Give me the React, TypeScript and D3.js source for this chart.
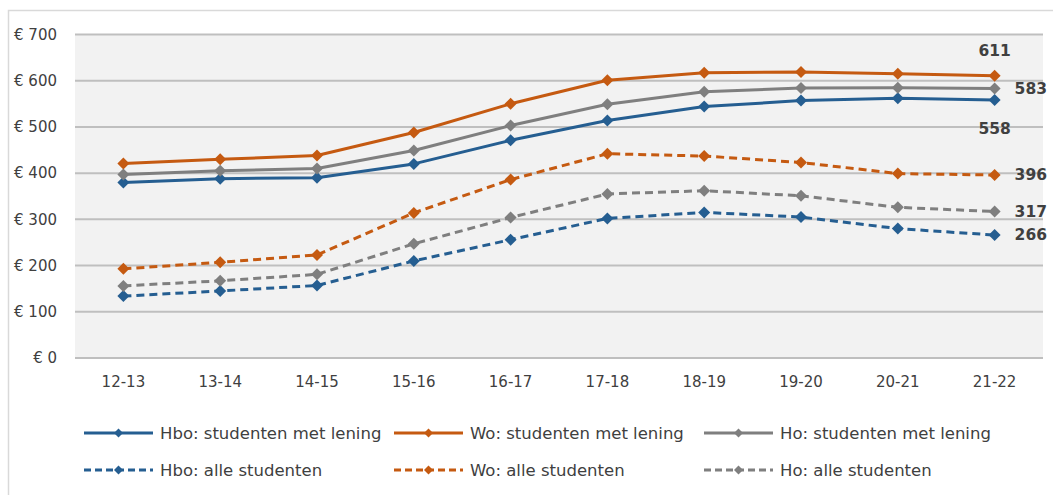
import React from "react";
import * as d3 from "d3";

const categories = ["12-13", "13-14", "14-15", "15-16", "16-17", "17-18", "18-19", "19-20", "20-21", "21-22"];
const hboLening = [380, 388, 390, 420, 471, 514, 544, 557, 562, 558];
const woLening = [421, 430, 438, 488, 550, 601, 617, 619, 615, 611];
const hoLening = [397, 405, 410, 449, 503, 549, 576, 584, 585, 583];
const hboAlle = [134, 145, 157, 210, 256, 302, 315, 305, 280, 266];
const woAlle = [193, 207, 223, 314, 386, 442, 437, 423, 399, 396];
const hoAlle = [156, 167, 181, 247, 304, 355, 362, 351, 326, 317];
const yTicks = [0, 100, 200, 300, 400, 500, 600, 700];

const BLUE = "#255E91";
const ORANGE = "#C55A11";
const GRAY = "#7F7F7F";

const series = [
  { name: "Hbo: studenten met lening", values: hboLening, color: BLUE, dashed: false, label: "below" },
  { name: "Wo: studenten met lening", values: woLening, color: ORANGE, dashed: false, label: "above" },
  { name: "Ho: studenten met lening", values: hoLening, color: GRAY, dashed: false, label: "right" },
  { name: "Hbo: alle studenten", values: hboAlle, color: BLUE, dashed: true, label: "right" },
  { name: "Wo: alle studenten", values: woAlle, color: ORANGE, dashed: true, label: "right" },
  { name: "Ho: alle studenten", values: hoAlle, color: GRAY, dashed: true, label: "right" },
];

const FONT = "'DejaVu Sans', Verdana, sans-serif";

export default function App() {
  const W = 1053, H = 495;
  const left = 75, right = 1043, top = 34.5, bottom = 358;
  const x = d3.scaleBand<string>().domain(categories).range([left, right]);
  const y = d3.scaleLinear().domain([0, 700]).range([bottom, top]);
  const cx = (c: string) => (x(c) as number) + x.bandwidth() / 2;
  const line = d3.line<number>().x((_, i) => cx(categories[i])).y((v) => y(v));
  const diamond = (px: number, py: number, r: number) =>
    `M${px},${py - r}L${px + r},${py}L${px},${py + r}L${px - r},${py}Z`;

  const drawOrder = [3, 5, 4, 0, 2, 1];
  const legendCols = [84, 394, 704];
  const legendRows = [433, 470];

  return (
    <div style={{ position: "fixed", left: 0, top: 0, width: W, height: H, overflow: "hidden" }}>
      <svg width={W} height={H} style={{ display: "block", fontFamily: FONT }}>
        <rect x={0} y={0} width={W} height={H} fill="#fff" />
        <rect x={8.5} y={10.5} width={1060} height={500} fill="none" stroke="#D9D9D9" strokeWidth={1.5} />
        <rect x={left} y={top} width={right - left} height={bottom - top} fill="#F2F2F2" />
        {yTicks.map((t) => (
          <g key={t}>
            <line x1={left} x2={right} y1={y(t)} y2={y(t)} stroke="#BFBFBF" strokeWidth={2} />
            <text x={57} y={y(t)} dy="0.35em" textAnchor="end" fontSize={15} fill="#404040">
              {`€ ${t}`}
            </text>
          </g>
        ))}
        {categories.map((c) => (
          <text key={c} x={cx(c)} y={382} dy="0.35em" textAnchor="middle" fontSize={15} fill="#404040">
            {c}
          </text>
        ))}
        {drawOrder.map((si) => {
          const s = series[si];
          return (
            <g key={s.name}>
              <path
                d={line(s.values) as string}
                fill="none"
                stroke={s.color}
                strokeWidth={3}
                strokeDasharray={s.dashed ? "8,5" : undefined}
                strokeLinejoin="round"
              />
              {s.values.map((v, i) => (
                <path key={i} d={diamond(cx(categories[i]), y(v), 6)} fill={s.color} />
              ))}
            </g>
          );
        })}
        {series.map((s) => {
          const last = s.values[s.values.length - 1];
          const px = cx(categories[categories.length - 1]);
          const py = y(last);
          let tx = px, ty = py, anchor: "start" | "middle" = "middle";
          if (s.label === "above") ty = py - 25;
          else if (s.label === "below") ty = py + 28;
          else { tx = px + 20; anchor = "start"; }
          return (
            <text key={s.name + "lbl"} x={tx} y={ty} dy="0.35em" textAnchor={anchor} fontSize={15.5}
              fontWeight="bold" fill="#404040">
              {last}
            </text>
          );
        })}
        {series.map((s, i) => {
          const lx = legendCols[i % 3];
          const ly = legendRows[Math.floor(i / 3)];
          return (
            <g key={s.name + "leg"}>
              <line x1={lx} x2={lx + 69} y1={ly} y2={ly} stroke={s.color} strokeWidth={3}
                strokeDasharray={s.dashed ? "7,4" : undefined} />
              <path d={diamond(lx + 34.5, ly, 4.5)} fill={s.color} />
              <text x={lx + 76} y={ly} dy="0.35em" fontSize={16.5} fill="#404040">{s.name}</text>
            </g>
          );
        })}
      </svg>
    </div>
  );
}
